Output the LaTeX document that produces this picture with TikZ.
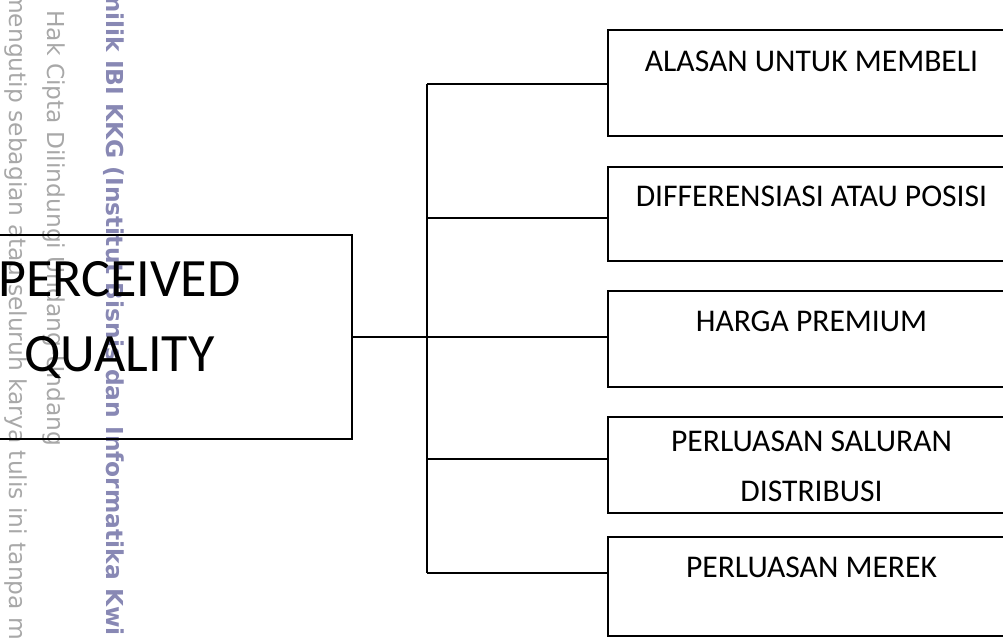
\documentclass[tikz,border=0pt]{standalone}
\usepackage{fontspec}
\setmainfont{Carlito}
\newfontfamily\wmfont{DejaVu Sans}
\usepackage{xcolor}
\definecolor{wmgray}{RGB}{168,168,168}
\definecolor{wmblue}{RGB}{136,136,180}
\tikzset{
  wmark/.style={rotate=-90, anchor=base west, inner sep=0pt, text=wmgray,
    font=\wmfont\fontsize{17.5}{20}\selectfont},
  mainbox/.style={draw, line width=1.1pt, inner sep=0pt,
    minimum width=348.75pt, minimum height=153pt},
  subbox/.style={draw, line width=1.1pt, inner sep=0pt, minimum width=305.25pt},
  bigtext/.style={anchor=base, inner sep=0pt, font=\fontsize{40.5}{48}\selectfont},
  subtext/.style={anchor=base, inner sep=0pt, font=\fontsize{23.7}{28}\selectfont},
  branch/.style={line width=1pt}
}

\begin{document}
\begin{tikzpicture}[x=0.75pt,y=-0.75pt]
\useasboundingbox (0,0) rectangle (1003,637);
\clip (0,0) rectangle (1003,637);
% watermark
\path (9,-9) node[wmark] (wm1) {mengutip sebagian atau seluruh karya tulis ini tanpa m}
      (47,10) node[wmark] (wm2) {Hak Cipta Dilindungi Undang-Undang}
      (106,-12) node[wmark, text=wmblue, font=\wmfont\bfseries\fontsize{17.5}{20}\selectfont] (wm3)
        {milik IBI KKG (Institut Bisnis dan Informatika Kwi};
% boxes
\path (119.5,337) node[mainbox,
        label={[bigtext,yshift=-46.5pt]north:PERCEIVED},
        label={[bigtext,yshift=-102.75pt]north:QUALITY}] (pq) {}
      (811.5,83) node[subbox, minimum height=79.5pt,
        label={[subtext,yshift=-31.5pt]north:ALASAN UNTUK MEMBELI}] (b1) {}
      (811.5,214) node[subbox, minimum height=70.5pt,
        label={[subtext,yshift=-30pt]north:DIFFERENSIASI ATAU POSISI}] (b2) {}
      (811.5,339) node[subbox, minimum height=72pt,
        label={[subtext,yshift=-30.75pt]north:HARGA PREMIUM}] (b3) {}
      (811.5,465) node[subbox, minimum height=72pt,
        label={[subtext,yshift=-26.25pt]north:PERLUASAN SALURAN},
        label={[subtext,yshift=-63.75pt]north:DISTRIBUSI}] (b4) {}
      (811.5,586.5) node[subbox, minimum height=74.25pt,
        label={[subtext,yshift=-30.75pt]north:PERLUASAN MEREK}] (b5) {};
% spine
\path (427,84) coordinate (j1)
      (427,218) coordinate (j2)
      (427,337) coordinate (j3)
      (427,459) coordinate (j4)
      (427,573) coordinate (j5);
\path[branch]
    (pq) edge (j3)
    (j1) edge (j5)
    (j1) edge (j1 -| b1.west)
    (j2) edge (j2 -| b2.west)
    (j3) edge (j3 -| b3.west)
    (j4) edge (j4 -| b4.west)
    (j5) edge (j5 -| b5.west);
\end{tikzpicture}
\end{document}
